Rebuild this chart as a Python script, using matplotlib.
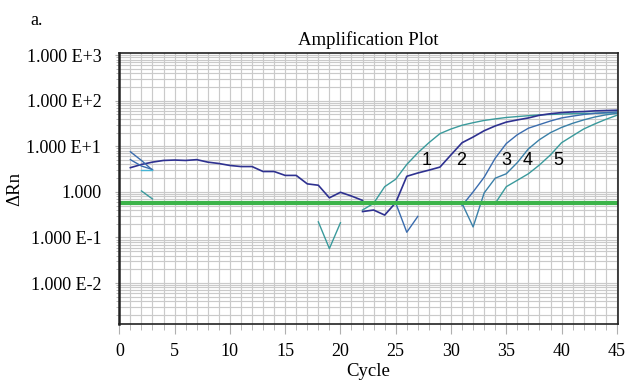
import numpy as np
import matplotlib
matplotlib.use("Agg")
import matplotlib.pyplot as plt
from matplotlib.ticker import MultipleLocator, LogLocator, NullFormatter

plt.rcParams['font.family'] = ['Liberation Serif', 'DejaVu Serif']

# background / early segments
bg_cycles = np.arange(1, 23)
bg_values = [3.4, 4.0, 4.5, 4.9, 5.0, 4.9, 5.1, 4.5, 4.2, 3.8, 3.6,
             3.6, 2.8, 2.8, 2.3, 2.3, 1.5, 1.4, 0.74, 0.98, 0.81, 0.65]
early_cycles = [1, 2, 3]
early_a = [7.6, 4.9, 3.0]
early_b = [5.1, 3.7, 3.1]
early_c = [np.nan, 3.1, 3.1]
early_d = [np.nan, 1.05, 0.7]
dip_cycles = [18, 19, 20]
dip_values = [0.22, 0.057, 0.21]
drop_cycles = [25, 26, 27]
drop_values = [0.57, 0.13, 0.29]

# amplification curves
c1_cycles = np.arange(22, 46)
c1_values = [0.40, 0.56, 1.3, 1.9, 4.0, 7.2, 12, 19, 24, 29, 33, 37,
             40, 43, 45, 47, 49, 50, 51, 52, 53, 53, 54, 54]
c2_cycles = np.arange(22, 46)
c2_values = [0.37, 0.40, 0.31, 0.58, 2.2, 2.6, 3.0, 3.5, 6.5, 12, 16, 22,
             28, 34, 38, 42, 48, 52, 55, 57, 58, 60, 61, 62]
c3_cycles = np.arange(31, 46)
c3_values = [0.5, 1.0, 2.1, 5.5, 11.5, 18, 25, 30, 36, 42, 46, 50, 53, 55, 57]
c4_cycles = np.arange(31, 46)
c4_values = [0.56, 0.17, 0.95, 2.0, 2.5, 4.4, 8.8, 14, 20, 26, 32, 38, 44, 49, 53]
c5_cycles = np.arange(34, 46)
c5_values = [0.56, 1.3, 1.8, 2.5, 3.9, 6.5, 12, 17, 24, 31, 39, 48]

threshold = 0.575
label_names = ["1", "2", "3", "4", "5"]
label_x = [27.8, 30.9, 35.0, 36.9, 39.7]
label_y = 5.0

dark = "#2e3190"
teal = "#3a9a9c"
mid = "#3a6cae"
cyan = "#45b5d5"

fig = plt.figure(figsize=(6.28, 3.81), dpi=100)
ax = fig.add_axes([0.19, 0.1496, 0.794, 0.7114])

ax.set_yscale('log')
ax.set_xlim(0, 45.1)
ax.set_ylim(1.26e-3, 1120)

ax.xaxis.set_major_locator(MultipleLocator(5))
ax.xaxis.set_minor_locator(MultipleLocator(1))
ax.yaxis.set_major_locator(LogLocator(base=10, numticks=10))
ax.yaxis.set_minor_locator(LogLocator(base=10, subs=np.arange(2, 10), numticks=20))
ax.yaxis.set_minor_formatter(NullFormatter())
ax.grid(which='both', color='#cacaca', linewidth=0.85)
ax.set_axisbelow(True)

ax.set_yticks([1e3, 1e2, 1e1, 1, 1e-1, 1e-2],
              ["1.000 E+3", "1.000 E+2", "1.000 E+1", "1.000", "1.000 E-1", "1.000 E-2"])
ax.set_xticks([0, 5, 10, 15, 20, 25, 30, 35, 40, 45])

ax.tick_params(axis='x', which='major', length=7, color='#b0b0b0', pad=7, labelsize=13)
ax.tick_params(axis='x', which='minor', length=4, color='#b0b0b0')
ax.tick_params(axis='y', which='major', length=3, color='#b0b0b0', pad=10, labelsize=13)
ax.tick_params(axis='y', which='minor', length=2, color='#b0b0b0')
for s in ax.spines.values():
    s.set_color('#222222')
    s.set_linewidth(1.2)
ax.spines['left'].set_linewidth(1.8)

ax.plot(bg_cycles, bg_values, color=dark, lw=1.2)
ax.plot(early_cycles, early_a, color=mid, lw=1.0)
ax.plot(early_cycles, early_b, color=mid, lw=1.0)
ax.plot(early_cycles, early_c, color=cyan, lw=1.0)
ax.plot(early_cycles, early_d, color=teal, lw=1.0)
ax.plot(dip_cycles, dip_values, color=teal, lw=1.0)
ax.plot(drop_cycles, drop_values, color=mid, lw=1.0)

ax.plot(c1_cycles, c1_values, color=teal, lw=1.0)
ax.plot(c2_cycles, c2_values, color=dark, lw=1.2)
ax.plot(c3_cycles, c3_values, color=mid, lw=1.0)
ax.plot(c4_cycles, c4_values, color="#3a80a8", lw=1.0)
ax.plot(c5_cycles, c5_values, color=teal, lw=1.0)

ax.axhline(threshold, color='#3cb44a', lw=3)

for name, x in zip(label_names, label_x):
    ax.text(x, label_y, name, family=['Liberation Sans', 'DejaVu Sans'],
            fontsize=13, ha='center', va='center')

ax.set_title("Amplification Plot", fontsize=13.5, pad=6)
ax.set_xlabel("Cycle", fontsize=13.5, labelpad=2)
ax.set_ylabel("ΔRn", fontsize=13.5, labelpad=2)
fig.text(30 / 628, 1 - 25 / 381, "a.", fontsize=13, ha='left', va='baseline')

fig.savefig("out.png", dpi=100)
